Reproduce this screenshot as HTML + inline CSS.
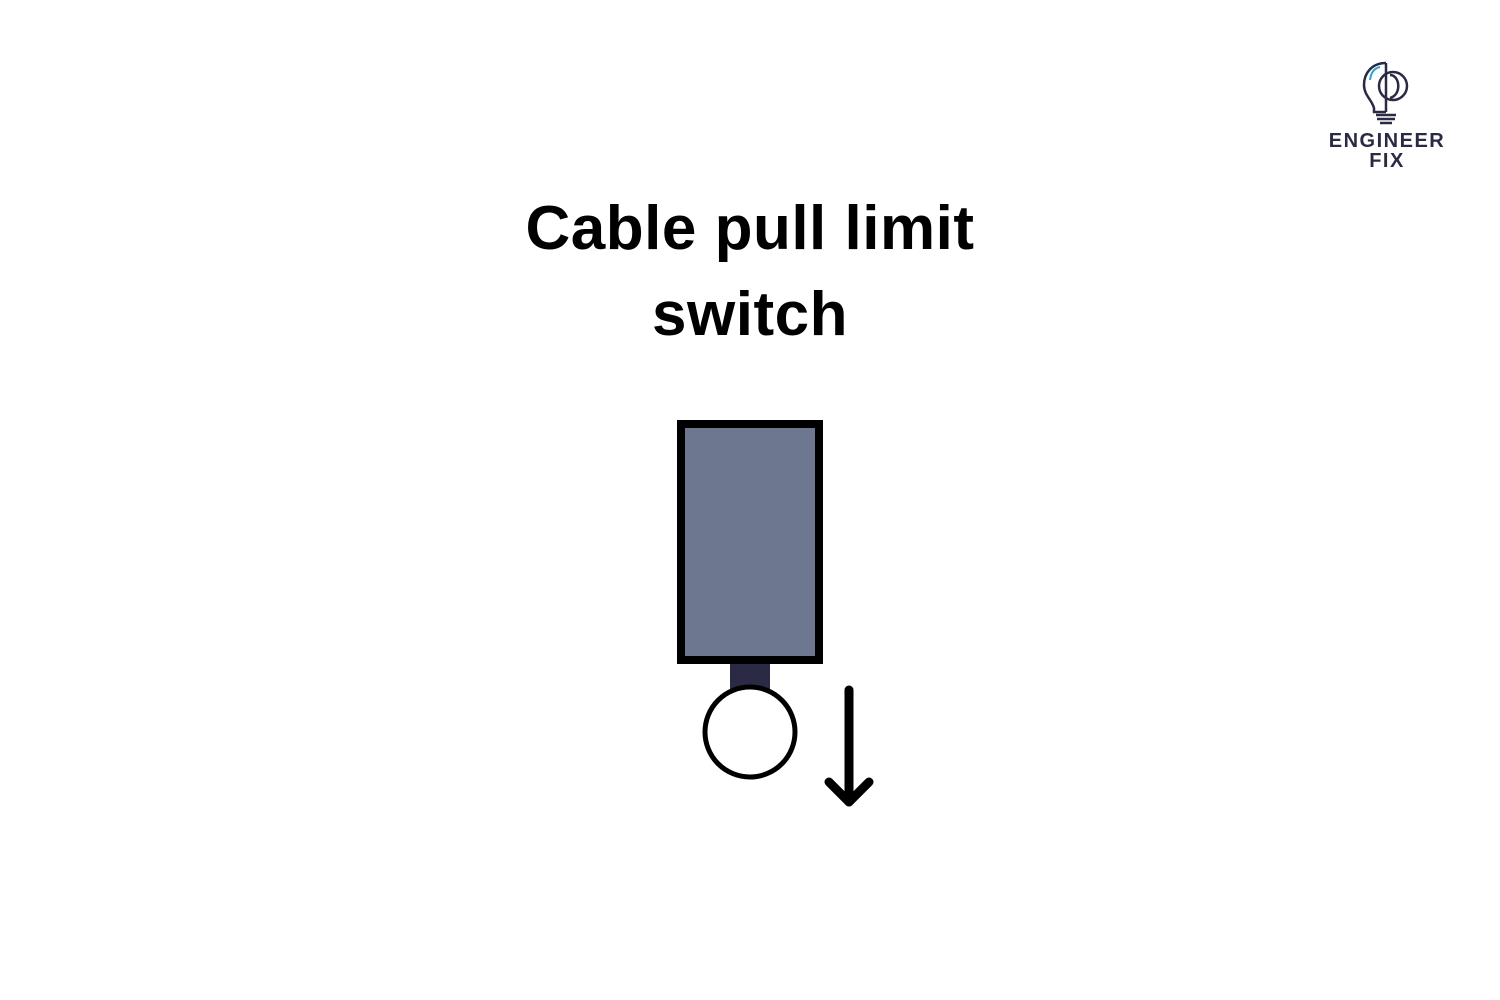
<!DOCTYPE html>
<html><head><meta charset="utf-8"><style>
html,body{margin:0;padding:0;background:#fff;width:1500px;height:1000px;overflow:hidden}
.t{position:absolute;left:0;width:1500px;text-align:center;font-family:"Liberation Sans",sans-serif;font-weight:bold;font-size:62px;letter-spacing:0.5px;color:#000}
.l{position:absolute;font-family:"Liberation Sans",sans-serif;font-weight:bold;color:#2a2a45;text-align:center;letter-spacing:1.5px}
</style></head><body>
<div class="t" style="top:193px">Cable pull limit</div>
<div class="t" style="top:279px">switch</div>
<svg width="1500" height="1000" style="position:absolute;left:0;top:0">
<rect x="681" y="424" width="138" height="236" fill="#6d778f" stroke="#000" stroke-width="8"/>
<rect x="730" y="664" width="40" height="26" fill="#2a2a45"/>
<circle cx="750" cy="732" r="45" fill="#fff" stroke="#000" stroke-width="5"/>
<g stroke="#000" stroke-width="9" stroke-linecap="round" fill="none" stroke-linejoin="round">
<line x1="849" y1="690" x2="849" y2="802"/>
<polyline points="829,782 849,802 869,782"/>
</g>
<g stroke="#2a2a45" stroke-width="2.5" fill="none">
<path d="M1386,63 C1372,63 1364,73 1364,85 C1364,95 1372,100 1374,108 L1374,112 L1386,112"/>
<line x1="1386" y1="63" x2="1386" y2="112"/>
<path d="M1390,75 C1400,75 1402,95 1390,98"/>
<circle cx="1393" cy="86" r="14"/>
<line x1="1376" y1="115" x2="1396" y2="115"/>
<line x1="1377" y1="119" x2="1395" y2="119"/>
<line x1="1380" y1="123" x2="1392" y2="123"/>
</g>
<path d="M1370,80 C1371,72 1375,68 1380,67" stroke="#2aa6d6" stroke-width="2" fill="none"/>
</svg>
<div class="l" style="left:1315px;top:130px;width:144px;font-size:20px">ENGINEER</div>
<div class="l" style="left:1315px;top:150px;width:144px;font-size:20px">FIX</div>
</body></html>
